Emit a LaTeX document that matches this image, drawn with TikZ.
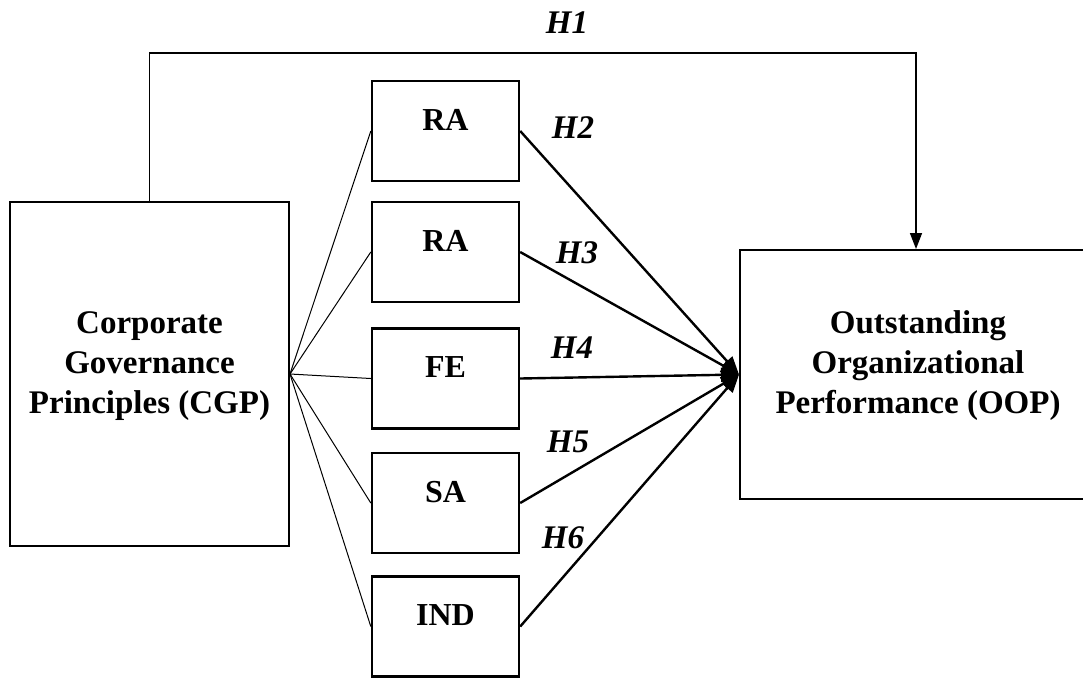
\documentclass[tikz,border=0pt]{standalone}
\usepackage{fontspec}
\setmainfont{Liberation Serif}
\usepackage{tikz}
\usetikzlibrary{positioning, arrows.meta, calc}

\begin{document}
\begin{tikzpicture}[
    x=0.5pt, y=-0.5pt,
    bigbox/.style={rectangle, draw, line width=1pt, inner sep=0pt},
    smallbox/.style={rectangle, draw, line width=1.2pt, inner sep=0pt, minimum width=73.5pt, minimum height=50pt},
    bigtext/.style={align=center, font=\fontsize{16.5}{20}\selectfont\bfseries},
    smalltext/.style={font=\fontsize{16}{19}\selectfont\bfseries},
    hyp/.style={font=\fontsize{16.5}{20}\selectfont\bfseries\itshape},
    fan/.style={line width=0.5pt},
    arrow/.style={-{Triangle[length=9pt, width=7pt]}, line width=1.2pt}
]
\useasboundingbox (0,0) rectangle (1083,677);

% Main constructs
\node[bigbox, minimum width=139.5pt, minimum height=172pt] (cgp) at (149.5, 374) {};
\node[bigtext] (cgplabel) at (149.5, 366) {Corporate\\Governance\\Principles (CGP)};
\node[bigbox, minimum width=172.5pt, minimum height=124.5pt] (oop) at (912.5, 374.5) {};
\node[bigtext] (ooplabel) at (918, 366) {Outstanding\\Organizational\\Performance (OOP)};

% Mediating boxes
\foreach \name/\txt/\y in {ra1/RA/131, ra2/RA/252, fe/FE/378.5, sa/SA/503, ind/IND/626.5} {
    \node[smallbox] (\name) at (445.5, \y) {};
    \node[smalltext] (\name label) at (445.5, \y-11) {\txt};
}

% Lines from CGP to each box
\foreach \name in {ra1, ra2, fe, sa, ind} {
    \draw[fan] (cgp.east) -- (\name.west);
}

% Arrows into OOP
\foreach \name in {ra1, ra2, fe, sa, ind} {
    \draw[arrow] (\name.east) -- (oop.west);
}

% Direct path H1
\coordinate (h1turn) at (916, 53);
\draw[line width=0.75pt, -{Triangle[length=8pt, width=6pt]}] (cgp.north) |- (h1turn) -- (h1turn |- oop.north);

% Hypothesis labels
\node[hyp] (h1) at (567, 23) {H1};
\node[hyp] (h2) at (573, 128) {H2};
\node[hyp] (h3) at (577, 253) {H3};
\node[hyp] (h4) at (572, 348) {H4};
\node[hyp] (h5) at (568, 442) {H5};
\node[hyp] (h6) at (563, 538) {H6};

\end{tikzpicture}
\end{document}
